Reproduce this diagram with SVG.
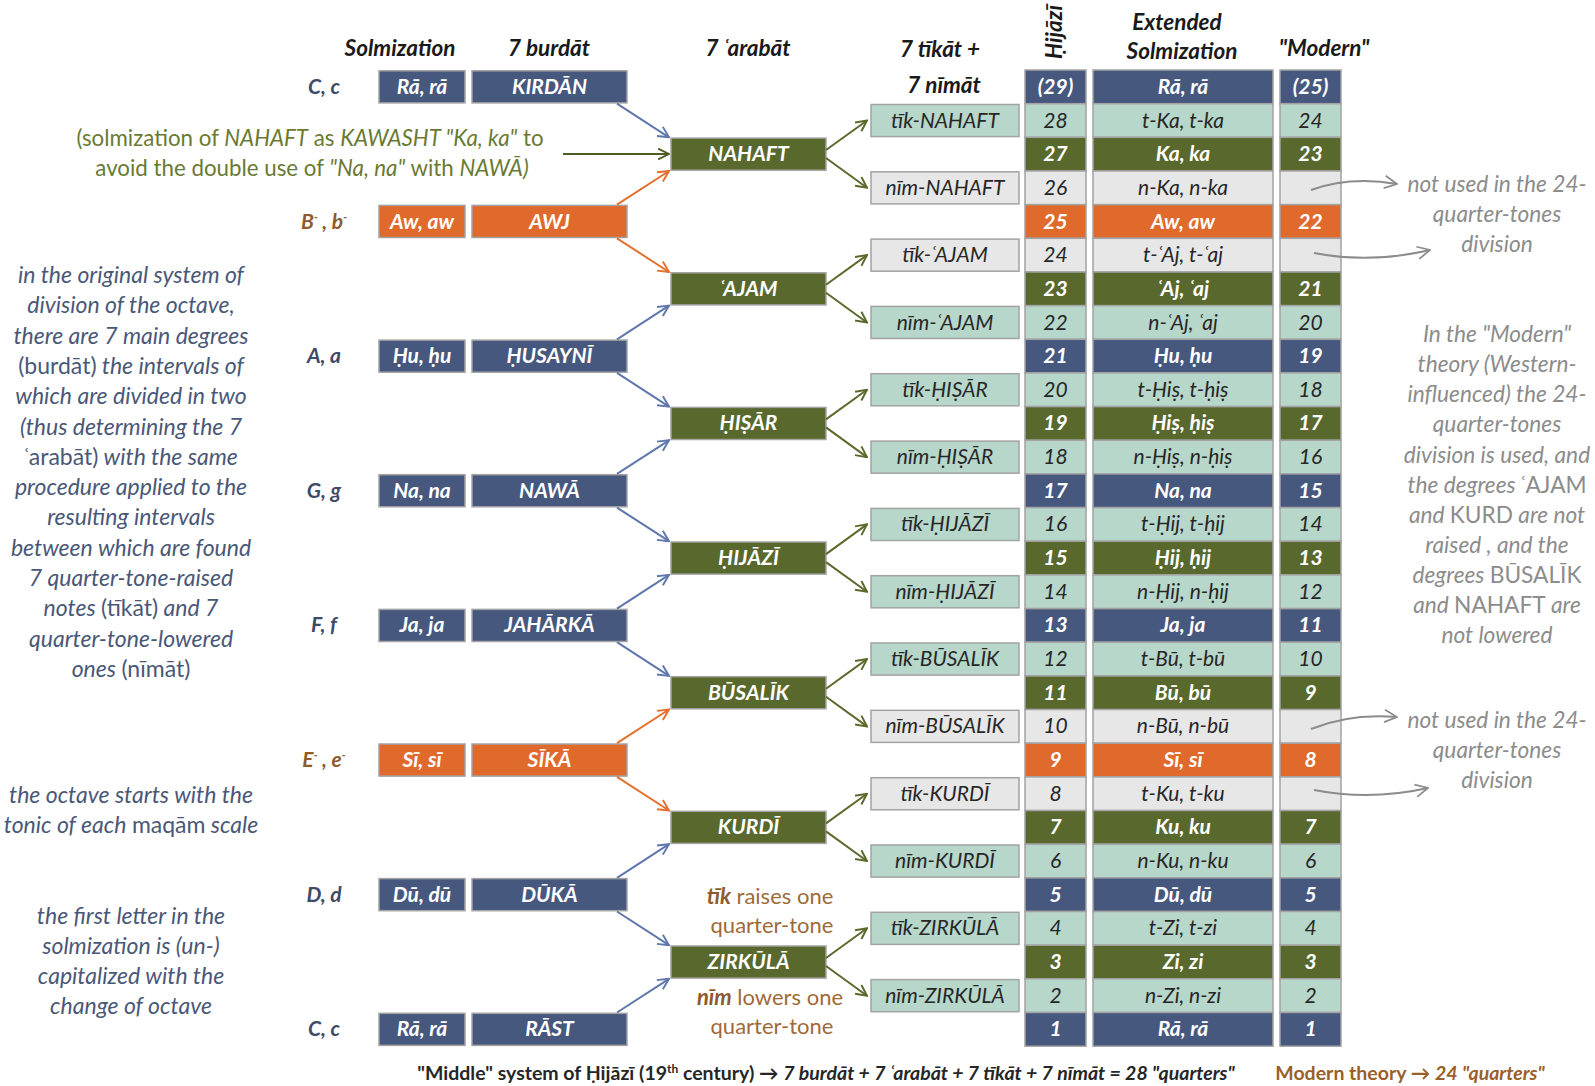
<svg xmlns="http://www.w3.org/2000/svg" width="1595" height="1086" viewBox="0 0 1595 1086">
<defs>
<marker id="mb" viewBox="0 0 12 12" refX="11" refY="6" markerWidth="13" markerHeight="13" markerUnits="userSpaceOnUse" orient="auto"><path d="M1,1 L11,6 L1,11" fill="none" stroke="#5f77ad" stroke-width="1.8"/></marker>
<marker id="mo" viewBox="0 0 12 12" refX="11" refY="6" markerWidth="13" markerHeight="13" markerUnits="userSpaceOnUse" orient="auto"><path d="M1,1 L11,6 L1,11" fill="none" stroke="#e4702f" stroke-width="1.8"/></marker>
<marker id="mg" viewBox="0 0 12 12" refX="11" refY="6" markerWidth="13" markerHeight="13" markerUnits="userSpaceOnUse" orient="auto"><path d="M1,1 L11,6 L1,11" fill="none" stroke="#5a6a2c" stroke-width="1.8"/></marker>
<marker id="mk" viewBox="0 0 12 12" refX="11" refY="6" markerWidth="13" markerHeight="13" markerUnits="userSpaceOnUse" orient="auto"><path d="M1,1 L11,6 L1,11" fill="none" stroke="#4e5d24" stroke-width="1.8"/></marker>
<marker id="mr" viewBox="0 0 12 12" refX="11" refY="6" markerWidth="15" markerHeight="15" markerUnits="userSpaceOnUse" orient="auto"><path d="M1,1 L11,6 L1,11" fill="none" stroke="#8c8c8c" stroke-width="1.4"/></marker>
</defs>
<style>
text{font-family:Lato,"Noto Sans","DejaVu Sans",sans-serif}
.hd{font-size:22.5px;font-weight:bold;font-style:italic;fill:#1a1a1a;text-anchor:middle}
.blue,.olive,.orange,.teal,.gray{stroke:#a3a3a3;stroke-width:1.5}
.blue{fill:#47587f}
.olive{fill:#59682d}
.orange{fill:#e06a2c}
.teal{fill:#b7d7cb}
.gray{fill:#e7e7e7}
.tw{font-size:21px;font-weight:bold;font-style:italic;fill:#ffffff;text-anchor:middle}
.td{font-size:21px;font-style:italic;fill:#262626;text-anchor:middle}
.nl{font-size:21px;font-weight:bold;font-style:italic;fill:#3f4a68;text-anchor:middle}
.nlo{fill:#8e5a2e}
.lt{font-size:23px;font-style:italic;fill:#4a5878;text-anchor:middle}
.up{font-style:normal}
.rt{font-size:22.7px;font-style:italic;fill:#8c8c8c;text-anchor:middle}
.ct{font-size:22.3px;fill:#6a7a32;text-anchor:middle}
.it{font-style:italic}
.br{font-size:22px;fill:#a06a38;text-anchor:middle}
.brb{font-weight:bold;font-style:italic;fill:#8e5a2e}
.cb{fill:none;stroke-width:2}
.bot{font-size:19.5px;font-weight:bold;fill:#262626;text-anchor:middle}
</style>
<rect x="0" y="0" width="1595" height="1086" fill="#ffffff"/>

<g id="headers">
<text class="hd" x="400" y="56">Solmization</text>
<text class="hd" x="549" y="56">7 burdāt</text>
<text class="hd" x="748" y="56">7 ʿarabāt</text>
<text class="hd" x="940" y="57">7 tīkāt +</text>
<text class="hd" x="944" y="93">7 nīmāt</text>
<text class="hd" transform="translate(1062,32) rotate(-90)">Ḥijāzī</text>
<text class="hd" x="1177" y="30">Extended</text>
<text class="hd" x="1182" y="59">Solmization</text>
<text class="hd" x="1324" y="56">"Modern"</text>
</g>

<g id="note-labels">
<text class="nl" x="324" y="93.8">C, c</text>
<text class="nl nlo" x="324" y="228.5">B<tspan dy="-8" font-size="11">-</tspan><tspan dy="8"> , b</tspan><tspan dy="-8" font-size="11">-</tspan></text>
<text class="nl" x="324" y="363.1">A, a</text>
<text class="nl" x="324" y="497.8">G, g</text>
<text class="nl" x="324" y="632.4">F, f</text>
<text class="nl nlo" x="324" y="767">E<tspan dy="-8" font-size="11">-</tspan><tspan dy="8"> , e</tspan><tspan dy="-8" font-size="11">-</tspan></text>
<text class="nl" x="324" y="901.7">D, d</text>
<text class="nl" x="324" y="1036.3">C, c</text>
</g>

<g id="burdat-29"><rect class="blue" x="379" y="70.8" width="86" height="32.1"/><text class="tw" x="422" y="93.8">Rā, rā</text><rect class="blue" x="472" y="70.8" width="155" height="32.1"/><text class="tw" x="549.5" y="93.8">KIRDĀN</text></g>
<g id="burdat-25"><rect class="orange" x="379" y="205.4" width="86" height="32.1"/><text class="tw" x="422" y="228.5">Aw, aw</text><rect class="orange" x="472" y="205.4" width="155" height="32.1"/><text class="tw" x="549.5" y="228.5">AWJ</text></g>
<g id="burdat-21"><rect class="blue" x="379" y="340.1" width="86" height="32.1"/><text class="tw" x="422" y="363.1">Ḥu, ḥu</text><rect class="blue" x="472" y="340.1" width="155" height="32.1"/><text class="tw" x="549.5" y="363.1">ḤUSAYNĪ</text></g>
<g id="burdat-17"><rect class="blue" x="379" y="474.7" width="86" height="32.1"/><text class="tw" x="422" y="497.8">Na, na</text><rect class="blue" x="472" y="474.7" width="155" height="32.1"/><text class="tw" x="549.5" y="497.8">NAWĀ</text></g>
<g id="burdat-13"><rect class="blue" x="379" y="609.4" width="86" height="32.1"/><text class="tw" x="422" y="632.4">Ja, ja</text><rect class="blue" x="472" y="609.4" width="155" height="32.1"/><text class="tw" x="549.5" y="632.4">JAHĀRKĀ</text></g>
<g id="burdat-9"><rect class="orange" x="379" y="744" width="86" height="32.1"/><text class="tw" x="422" y="767">Sī, sī</text><rect class="orange" x="472" y="744" width="155" height="32.1"/><text class="tw" x="549.5" y="767">SĪKĀ</text></g>
<g id="burdat-5"><rect class="blue" x="379" y="878.6" width="86" height="32.1"/><text class="tw" x="422" y="901.7">Dū, dū</text><rect class="blue" x="472" y="878.6" width="155" height="32.1"/><text class="tw" x="549.5" y="901.7">DŪKĀ</text></g>
<g id="burdat-1"><rect class="blue" x="379" y="1013.3" width="86" height="32.1"/><text class="tw" x="422" y="1036.3">Rā, rā</text><rect class="blue" x="472" y="1013.3" width="155" height="32.1"/><text class="tw" x="549.5" y="1036.3">RĀST</text></g>

<g id="arabat-27"><rect class="olive" x="671" y="138.1" width="155" height="32.1"/><text class="tw" x="748.5" y="161.2">NAHAFT</text></g>
<g id="arabat-23"><rect class="olive" x="671" y="272.8" width="155" height="32.1"/><text class="tw" x="748.5" y="295.8">ʿAJAM</text></g>
<g id="arabat-19"><rect class="olive" x="671" y="407.4" width="155" height="32.1"/><text class="tw" x="748.5" y="430.4">ḤIṢĀR</text></g>
<g id="arabat-15"><rect class="olive" x="671" y="542" width="155" height="32.1"/><text class="tw" x="748.5" y="565.1">ḤIJĀZĪ</text></g>
<g id="arabat-11"><rect class="olive" x="671" y="676.7" width="155" height="32.1"/><text class="tw" x="748.5" y="699.7">BŪSALĪK</text></g>
<g id="arabat-7"><rect class="olive" x="671" y="811.3" width="155" height="32.1"/><text class="tw" x="748.5" y="834.4">KURDĪ</text></g>
<g id="arabat-3"><rect class="olive" x="671" y="946" width="155" height="32.1"/><text class="tw" x="748.5" y="969">ZIRKŪLĀ</text></g>

<g id="tik-28"><rect class="teal" x="871" y="104.5" width="148" height="32.1"/><text class="td" x="945" y="127.5">tīk-NAHAFT</text></g>
<g id="nim-26"><rect class="gray" x="871" y="171.8" width="148" height="32.1"/><text class="td" x="945" y="194.8">nīm-NAHAFT</text></g>
<g id="tik-24"><rect class="gray" x="871" y="239.1" width="148" height="32.1"/><text class="td" x="945" y="262.1">tīk-ʿAJAM</text></g>
<g id="nim-22"><rect class="teal" x="871" y="306.4" width="148" height="32.1"/><text class="td" x="945" y="329.5">nīm-ʿAJAM</text></g>
<g id="tik-20"><rect class="teal" x="871" y="373.7" width="148" height="32.1"/><text class="td" x="945" y="396.8">tīk-ḤIṢĀR</text></g>
<g id="nim-18"><rect class="teal" x="871" y="441.1" width="148" height="32.1"/><text class="td" x="945" y="464.1">nīm-ḤIṢĀR</text></g>
<g id="tik-16"><rect class="teal" x="871" y="508.4" width="148" height="32.1"/><text class="td" x="945" y="531.4">tīk-ḤIJĀZĪ</text></g>
<g id="nim-14"><rect class="teal" x="871" y="575.7" width="148" height="32.1"/><text class="td" x="945" y="598.7">nīm-ḤIJĀZĪ</text></g>
<g id="tik-12"><rect class="teal" x="871" y="643" width="148" height="32.1"/><text class="td" x="945" y="666.1">tīk-BŪSALĪK</text></g>
<g id="nim-10"><rect class="gray" x="871" y="710.3" width="148" height="32.1"/><text class="td" x="945" y="733.4">nīm-BŪSALĪK</text></g>
<g id="tik-8"><rect class="gray" x="871" y="777.7" width="148" height="32.1"/><text class="td" x="945" y="800.7">tīk-KURDĪ</text></g>
<g id="nim-6"><rect class="teal" x="871" y="845" width="148" height="32.1"/><text class="td" x="945" y="868">nīm-KURDĪ</text></g>
<g id="tik-4"><rect class="teal" x="871" y="912.3" width="148" height="32.1"/><text class="td" x="945" y="935.3">tīk-ZIRKŪLĀ</text></g>
<g id="nim-2"><rect class="teal" x="871" y="979.6" width="148" height="32.1"/><text class="td" x="945" y="1002.7">nīm-ZIRKŪLĀ</text></g>

<g id="table">
<g id="row-29"><rect class="blue" x="1025" y="70" width="61" height="33.7"/><text class="tw" x="1055.5" y="93.8">(29)</text><rect class="blue" x="1093" y="70" width="180" height="33.7"/><text class="tw" x="1183" y="93.8">Rā, rā</text><rect class="blue" x="1280" y="70" width="61" height="33.7"/><text class="tw" x="1310.5" y="93.8">(25)</text></g>
<g id="row-28"><rect class="teal" x="1025" y="103.7" width="61" height="33.7"/><text class="td" x="1055.5" y="127.5">28</text><rect class="teal" x="1093" y="103.7" width="180" height="33.7"/><text class="td" x="1183" y="127.5">t-Ka, t-ka</text><rect class="teal" x="1280" y="103.7" width="61" height="33.7"/><text class="td" x="1310.5" y="127.5">24</text></g>
<g id="row-27"><rect class="olive" x="1025" y="137.3" width="61" height="33.7"/><text class="tw" x="1055.5" y="161.2">27</text><rect class="olive" x="1093" y="137.3" width="180" height="33.7"/><text class="tw" x="1183" y="161.2">Ka, ka</text><rect class="olive" x="1280" y="137.3" width="61" height="33.7"/><text class="tw" x="1310.5" y="161.2">23</text></g>
<g id="row-26"><rect class="gray" x="1025" y="171" width="61" height="33.7"/><text class="td" x="1055.5" y="194.8">26</text><rect class="gray" x="1093" y="171" width="180" height="33.7"/><text class="td" x="1183" y="194.8">n-Ka, n-ka</text><rect class="gray" x="1280" y="171" width="61" height="33.7"/></g>
<g id="row-25"><rect class="orange" x="1025" y="204.6" width="61" height="33.7"/><text class="tw" x="1055.5" y="228.5">25</text><rect class="orange" x="1093" y="204.6" width="180" height="33.7"/><text class="tw" x="1183" y="228.5">Aw, aw</text><rect class="orange" x="1280" y="204.6" width="61" height="33.7"/><text class="tw" x="1310.5" y="228.5">22</text></g>
<g id="row-24"><rect class="gray" x="1025" y="238.3" width="61" height="33.7"/><text class="td" x="1055.5" y="262.1">24</text><rect class="gray" x="1093" y="238.3" width="180" height="33.7"/><text class="td" x="1183" y="262.1">t-ʿAj, t-ʿaj</text><rect class="gray" x="1280" y="238.3" width="61" height="33.7"/></g>
<g id="row-23"><rect class="olive" x="1025" y="272" width="61" height="33.7"/><text class="tw" x="1055.5" y="295.8">23</text><rect class="olive" x="1093" y="272" width="180" height="33.7"/><text class="tw" x="1183" y="295.8">ʿAj, ʿaj</text><rect class="olive" x="1280" y="272" width="61" height="33.7"/><text class="tw" x="1310.5" y="295.8">21</text></g>
<g id="row-22"><rect class="teal" x="1025" y="305.6" width="61" height="33.7"/><text class="td" x="1055.5" y="329.5">22</text><rect class="teal" x="1093" y="305.6" width="180" height="33.7"/><text class="td" x="1183" y="329.5">n-ʿAj, ʿaj</text><rect class="teal" x="1280" y="305.6" width="61" height="33.7"/><text class="td" x="1310.5" y="329.5">20</text></g>
<g id="row-21"><rect class="blue" x="1025" y="339.3" width="61" height="33.7"/><text class="tw" x="1055.5" y="363.1">21</text><rect class="blue" x="1093" y="339.3" width="180" height="33.7"/><text class="tw" x="1183" y="363.1">Ḥu, ḥu</text><rect class="blue" x="1280" y="339.3" width="61" height="33.7"/><text class="tw" x="1310.5" y="363.1">19</text></g>
<g id="row-20"><rect class="teal" x="1025" y="372.9" width="61" height="33.7"/><text class="td" x="1055.5" y="396.8">20</text><rect class="teal" x="1093" y="372.9" width="180" height="33.7"/><text class="td" x="1183" y="396.8">t-Ḥiṣ, t-ḥiṣ</text><rect class="teal" x="1280" y="372.9" width="61" height="33.7"/><text class="td" x="1310.5" y="396.8">18</text></g>
<g id="row-19"><rect class="olive" x="1025" y="406.6" width="61" height="33.7"/><text class="tw" x="1055.5" y="430.4">19</text><rect class="olive" x="1093" y="406.6" width="180" height="33.7"/><text class="tw" x="1183" y="430.4">Ḥiṣ, ḥiṣ</text><rect class="olive" x="1280" y="406.6" width="61" height="33.7"/><text class="tw" x="1310.5" y="430.4">17</text></g>
<g id="row-18"><rect class="teal" x="1025" y="440.3" width="61" height="33.7"/><text class="td" x="1055.5" y="464.1">18</text><rect class="teal" x="1093" y="440.3" width="180" height="33.7"/><text class="td" x="1183" y="464.1">n-Ḥiṣ, n-ḥiṣ</text><rect class="teal" x="1280" y="440.3" width="61" height="33.7"/><text class="td" x="1310.5" y="464.1">16</text></g>
<g id="row-17"><rect class="blue" x="1025" y="473.9" width="61" height="33.7"/><text class="tw" x="1055.5" y="497.8">17</text><rect class="blue" x="1093" y="473.9" width="180" height="33.7"/><text class="tw" x="1183" y="497.8">Na, na</text><rect class="blue" x="1280" y="473.9" width="61" height="33.7"/><text class="tw" x="1310.5" y="497.8">15</text></g>
<g id="row-16"><rect class="teal" x="1025" y="507.6" width="61" height="33.7"/><text class="td" x="1055.5" y="531.4">16</text><rect class="teal" x="1093" y="507.6" width="180" height="33.7"/><text class="td" x="1183" y="531.4">t-Ḥij, t-ḥij</text><rect class="teal" x="1280" y="507.6" width="61" height="33.7"/><text class="td" x="1310.5" y="531.4">14</text></g>
<g id="row-15"><rect class="olive" x="1025" y="541.2" width="61" height="33.7"/><text class="tw" x="1055.5" y="565.1">15</text><rect class="olive" x="1093" y="541.2" width="180" height="33.7"/><text class="tw" x="1183" y="565.1">Ḥij, ḥij</text><rect class="olive" x="1280" y="541.2" width="61" height="33.7"/><text class="tw" x="1310.5" y="565.1">13</text></g>
<g id="row-14"><rect class="teal" x="1025" y="574.9" width="61" height="33.7"/><text class="td" x="1055.5" y="598.7">14</text><rect class="teal" x="1093" y="574.9" width="180" height="33.7"/><text class="td" x="1183" y="598.7">n-Ḥij, n-ḥij</text><rect class="teal" x="1280" y="574.9" width="61" height="33.7"/><text class="td" x="1310.5" y="598.7">12</text></g>
<g id="row-13"><rect class="blue" x="1025" y="608.6" width="61" height="33.7"/><text class="tw" x="1055.5" y="632.4">13</text><rect class="blue" x="1093" y="608.6" width="180" height="33.7"/><text class="tw" x="1183" y="632.4">Ja, ja</text><rect class="blue" x="1280" y="608.6" width="61" height="33.7"/><text class="tw" x="1310.5" y="632.4">11</text></g>
<g id="row-12"><rect class="teal" x="1025" y="642.2" width="61" height="33.7"/><text class="td" x="1055.5" y="666.1">12</text><rect class="teal" x="1093" y="642.2" width="180" height="33.7"/><text class="td" x="1183" y="666.1">t-Bū, t-bū</text><rect class="teal" x="1280" y="642.2" width="61" height="33.7"/><text class="td" x="1310.5" y="666.1">10</text></g>
<g id="row-11"><rect class="olive" x="1025" y="675.9" width="61" height="33.7"/><text class="tw" x="1055.5" y="699.7">11</text><rect class="olive" x="1093" y="675.9" width="180" height="33.7"/><text class="tw" x="1183" y="699.7">Bū, bū</text><rect class="olive" x="1280" y="675.9" width="61" height="33.7"/><text class="tw" x="1310.5" y="699.7">9</text></g>
<g id="row-10"><rect class="gray" x="1025" y="709.5" width="61" height="33.7"/><text class="td" x="1055.5" y="733.4">10</text><rect class="gray" x="1093" y="709.5" width="180" height="33.7"/><text class="td" x="1183" y="733.4">n-Bū, n-bū</text><rect class="gray" x="1280" y="709.5" width="61" height="33.7"/></g>
<g id="row-9"><rect class="orange" x="1025" y="743.2" width="61" height="33.7"/><text class="tw" x="1055.5" y="767">9</text><rect class="orange" x="1093" y="743.2" width="180" height="33.7"/><text class="tw" x="1183" y="767">Sī, sī</text><rect class="orange" x="1280" y="743.2" width="61" height="33.7"/><text class="tw" x="1310.5" y="767">8</text></g>
<g id="row-8"><rect class="gray" x="1025" y="776.9" width="61" height="33.7"/><text class="td" x="1055.5" y="800.7">8</text><rect class="gray" x="1093" y="776.9" width="180" height="33.7"/><text class="td" x="1183" y="800.7">t-Ku, t-ku</text><rect class="gray" x="1280" y="776.9" width="61" height="33.7"/></g>
<g id="row-7"><rect class="olive" x="1025" y="810.5" width="61" height="33.7"/><text class="tw" x="1055.5" y="834.4">7</text><rect class="olive" x="1093" y="810.5" width="180" height="33.7"/><text class="tw" x="1183" y="834.4">Ku, ku</text><rect class="olive" x="1280" y="810.5" width="61" height="33.7"/><text class="tw" x="1310.5" y="834.4">7</text></g>
<g id="row-6"><rect class="teal" x="1025" y="844.2" width="61" height="33.7"/><text class="td" x="1055.5" y="868">6</text><rect class="teal" x="1093" y="844.2" width="180" height="33.7"/><text class="td" x="1183" y="868">n-Ku, n-ku</text><rect class="teal" x="1280" y="844.2" width="61" height="33.7"/><text class="td" x="1310.5" y="868">6</text></g>
<g id="row-5"><rect class="blue" x="1025" y="877.8" width="61" height="33.7"/><text class="tw" x="1055.5" y="901.7">5</text><rect class="blue" x="1093" y="877.8" width="180" height="33.7"/><text class="tw" x="1183" y="901.7">Dū, dū</text><rect class="blue" x="1280" y="877.8" width="61" height="33.7"/><text class="tw" x="1310.5" y="901.7">5</text></g>
<g id="row-4"><rect class="teal" x="1025" y="911.5" width="61" height="33.7"/><text class="td" x="1055.5" y="935.3">4</text><rect class="teal" x="1093" y="911.5" width="180" height="33.7"/><text class="td" x="1183" y="935.3">t-Zi, t-zi</text><rect class="teal" x="1280" y="911.5" width="61" height="33.7"/><text class="td" x="1310.5" y="935.3">4</text></g>
<g id="row-3"><rect class="olive" x="1025" y="945.2" width="61" height="33.7"/><text class="tw" x="1055.5" y="969">3</text><rect class="olive" x="1093" y="945.2" width="180" height="33.7"/><text class="tw" x="1183" y="969">Zi, zi</text><rect class="olive" x="1280" y="945.2" width="61" height="33.7"/><text class="tw" x="1310.5" y="969">3</text></g>
<g id="row-2"><rect class="teal" x="1025" y="978.8" width="61" height="33.7"/><text class="td" x="1055.5" y="1002.7">2</text><rect class="teal" x="1093" y="978.8" width="180" height="33.7"/><text class="td" x="1183" y="1002.7">n-Zi, n-zi</text><rect class="teal" x="1280" y="978.8" width="61" height="33.7"/><text class="td" x="1310.5" y="1002.7">2</text></g>
<g id="row-1"><rect class="blue" x="1025" y="1012.5" width="61" height="33.7"/><text class="tw" x="1055.5" y="1036.3">1</text><rect class="blue" x="1093" y="1012.5" width="180" height="33.7"/><text class="tw" x="1183" y="1036.3">Rā, rā</text><rect class="blue" x="1280" y="1012.5" width="61" height="33.7"/><text class="tw" x="1310.5" y="1036.3">1</text></g>
</g>

<g id="connectors">
<path class="cb" stroke="#5f77ad" marker-end="url(#mb)" d="M617,103.7 L669,137.3"/>
<path class="cb" stroke="#e4702f" marker-end="url(#mo)" d="M617,204.6 L669,171"/>
<path class="cb" stroke="#e4702f" marker-end="url(#mo)" d="M617,238.3 L669,272"/>
<path class="cb" stroke="#5f77ad" marker-end="url(#mb)" d="M617,339.3 L669,305.6"/>
<path class="cb" stroke="#5f77ad" marker-end="url(#mb)" d="M617,372.9 L669,406.6"/>
<path class="cb" stroke="#5f77ad" marker-end="url(#mb)" d="M617,473.9 L669,440.3"/>
<path class="cb" stroke="#5f77ad" marker-end="url(#mb)" d="M617,507.6 L669,541.2"/>
<path class="cb" stroke="#5f77ad" marker-end="url(#mb)" d="M617,608.6 L669,574.9"/>
<path class="cb" stroke="#5f77ad" marker-end="url(#mb)" d="M617,642.2 L669,675.9"/>
<path class="cb" stroke="#e4702f" marker-end="url(#mo)" d="M617,743.2 L669,709.5"/>
<path class="cb" stroke="#e4702f" marker-end="url(#mo)" d="M617,776.9 L669,810.5"/>
<path class="cb" stroke="#5f77ad" marker-end="url(#mb)" d="M617,877.8 L669,844.2"/>
<path class="cb" stroke="#5f77ad" marker-end="url(#mb)" d="M617,911.5 L669,945.2"/>
<path class="cb" stroke="#5f77ad" marker-end="url(#mb)" d="M617,1012.5 L669,978.8"/>

<path class="cb" stroke="#5a6a2c" marker-end="url(#mg)" d="M826,150 L867,120.5"/>
<path class="cb" stroke="#5a6a2c" marker-end="url(#mg)" d="M826,158 L867,187.8"/>
<path class="cb" stroke="#5a6a2c" marker-end="url(#mg)" d="M826,284.8 L867,255.1"/>
<path class="cb" stroke="#5a6a2c" marker-end="url(#mg)" d="M826,292.8 L867,322.5"/>
<path class="cb" stroke="#5a6a2c" marker-end="url(#mg)" d="M826,419.4 L867,389.8"/>
<path class="cb" stroke="#5a6a2c" marker-end="url(#mg)" d="M826,427.4 L867,457.1"/>
<path class="cb" stroke="#5a6a2c" marker-end="url(#mg)" d="M826,554.1 L867,524.4"/>
<path class="cb" stroke="#5a6a2c" marker-end="url(#mg)" d="M826,562.1 L867,591.7"/>
<path class="cb" stroke="#5a6a2c" marker-end="url(#mg)" d="M826,688.7 L867,659.1"/>
<path class="cb" stroke="#5a6a2c" marker-end="url(#mg)" d="M826,696.7 L867,726.4"/>
<path class="cb" stroke="#5a6a2c" marker-end="url(#mg)" d="M826,823.4 L867,793.7"/>
<path class="cb" stroke="#5a6a2c" marker-end="url(#mg)" d="M826,831.4 L867,861"/>
<path class="cb" stroke="#5a6a2c" marker-end="url(#mg)" d="M826,958 L867,928.3"/>
<path class="cb" stroke="#5a6a2c" marker-end="url(#mg)" d="M826,966 L867,995.7"/>

<path class="cb" stroke="#4e5d24" marker-end="url(#mk)" d="M563,154 L669,154"/>

<path class="cb" stroke="#8c8c8c" stroke-width="1.4" marker-end="url(#mr)" d="M1311,190 Q1350,176 1397,184"/>
<path class="cb" stroke="#8c8c8c" stroke-width="1.4" marker-end="url(#mr)" d="M1314,253 Q1370,264 1430,250"/>
<path class="cb" stroke="#8c8c8c" stroke-width="1.4" marker-end="url(#mr)" d="M1311,729 Q1350,713 1397,717"/>
<path class="cb" stroke="#8c8c8c" stroke-width="1.4" marker-end="url(#mr)" d="M1314,790 Q1370,801 1428,788"/>
</g>

<g id="callout">
<text class="ct" x="310" y="146">(solmization of <tspan class="it">NAHAFT</tspan> as <tspan class="it">KAWASHT "Ka, ka"</tspan>  to</text>
<text class="ct" x="312" y="176">avoid the double use of <tspan class="it">"Na, na"</tspan> with <tspan class="it">NAWĀ)</tspan></text>
</g>

<g id="left-note">
<text class="lt" x="131" y="283">in the original system of</text>
<text class="lt" x="131" y="313.3">division of the octave,</text>
<text class="lt" x="131" y="343.6">there are 7 main degrees</text>
<text class="lt" x="131" y="373.9"><tspan class="up">(burdāt)</tspan> the intervals of</text>
<text class="lt" x="131" y="404.2">which are divided in two</text>
<text class="lt" x="131" y="434.5">(thus determining the 7</text>
<text class="lt" x="131" y="464.8"><tspan class="up">ʿarabāt)</tspan> with the same</text>
<text class="lt" x="131" y="495.1">procedure applied to the</text>
<text class="lt" x="131" y="525.4">resulting intervals</text>
<text class="lt" x="131" y="555.7">between which are found</text>
<text class="lt" x="131" y="586">7 quarter-tone-raised</text>
<text class="lt" x="131" y="616.3">notes  <tspan class="up">(tīkāt)</tspan> and 7</text>
<text class="lt" x="131" y="646.6">quarter-tone-lowered</text>
<text class="lt" x="131" y="676.9">ones  <tspan class="up">(nīmāt)</tspan></text>
</g>

<g id="octave-note">
<text class="lt" x="131" y="803">the octave starts with the</text>
<text class="lt" x="131" y="833">tonic of each <tspan class="up">maqām</tspan> scale</text>
</g>

<g id="letter-note">
<text class="lt" x="131" y="924">the first letter in the</text>
<text class="lt" x="131" y="954">solmization is (un-)</text>
<text class="lt" x="131" y="984">capitalized with the</text>
<text class="lt" x="131" y="1014">change of octave</text>
</g>

<g id="modern-note">
<text class="rt" x="1497" y="342">In the "Modern"</text>
<text class="rt" x="1497" y="372">theory (Western-</text>
<text class="rt" x="1497" y="402">influenced) the 24-</text>
<text class="rt" x="1497" y="432">quarter-tones</text>
<text class="rt" x="1497" y="462.5">division is used, and</text>
<text class="rt" x="1497" y="492.5">the degrees  <tspan class="up">ʿAJAM</tspan></text>
<text class="rt" x="1497" y="522.6">and  <tspan class="up">KURD</tspan> are not</text>
<text class="rt" x="1497" y="552.7">raised , and the</text>
<text class="rt" x="1497" y="582.8">degrees  <tspan class="up">BŪSALĪK</tspan></text>
<text class="rt" x="1497" y="612.9">and  <tspan class="up">NAHAFT</tspan> are</text>
<text class="rt" x="1497" y="643">not lowered</text>
</g>

<g id="unused-note-1">
<text class="rt" x="1497" y="192">not used in the 24-</text>
<text class="rt" x="1497" y="222">quarter-tones</text>
<text class="rt" x="1497" y="252">division</text>
</g>
<g id="unused-note-2">
<text class="rt" x="1497" y="728">not used in the 24-</text>
<text class="rt" x="1497" y="758">quarter-tones</text>
<text class="rt" x="1497" y="788">division</text>
</g>

<g id="tik-nim-note">
<text class="br" x="770" y="904"><tspan class="brb">tīk</tspan>  raises one</text>
<text class="br" x="772" y="933">quarter-tone</text>
<text class="br" x="770" y="1005"><tspan class="brb">nīm</tspan>  lowers one</text>
<text class="br" x="772" y="1034">quarter-tone</text>
</g>

<g id="captions">
<text class="bot" x="826" y="1080">"Middle" system of Ḥijāzī (19<tspan dy="-7" font-size="12">th</tspan><tspan dy="7"> century) → </tspan><tspan font-style="italic">7 burdāt + 7 ʿarabāt + 7 tīkāt + 7 nīmāt = 28 "quarters"</tspan></text>
<text class="bot" x="1410" y="1080" style="fill:#9a5f2a">Modern theory → <tspan font-style="italic">24 "quarters"</tspan></text>
</g>
</svg>
